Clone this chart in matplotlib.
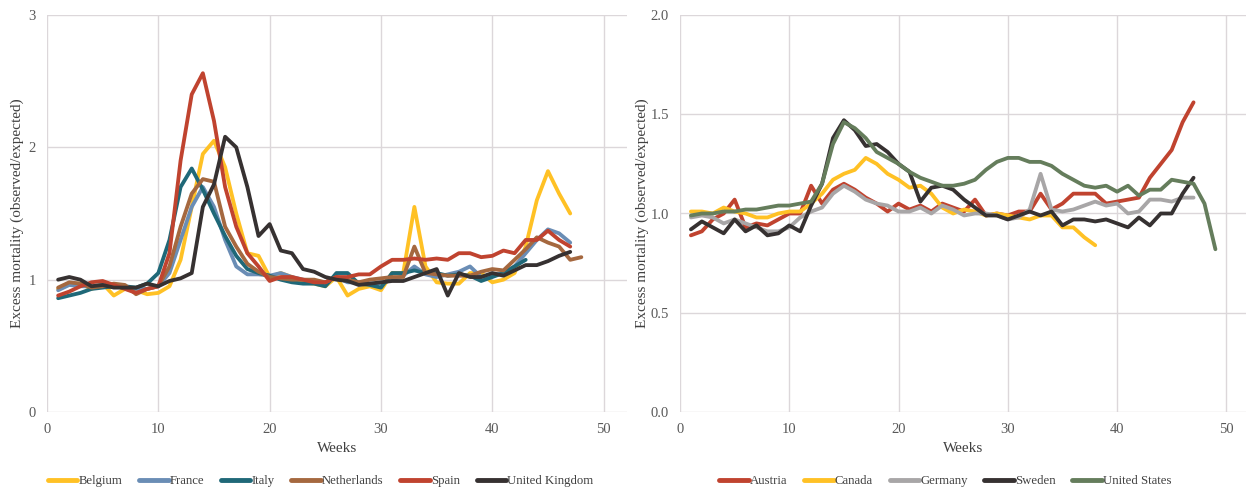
import matplotlib.pyplot as plt
from matplotlib.ticker import FormatStrFormatter

plt.rcParams['font.family'] = ['Liberation Serif', 'DejaVu Serif']
plt.rcParams['font.size'] = 10

# ---- left panel data (weekly observed/expected) ----
belgium = [0.93, 0.97, 0.97, 0.93, 0.97, 0.88, 0.93, 0.92, 0.89, 0.90,
           0.95, 1.15, 1.55, 1.95, 2.05, 1.85, 1.50, 1.20, 1.18, 1.02,
           1.05, 1.02, 0.98, 0.97, 0.95, 1.02, 0.88, 0.93, 0.95, 0.92,
           1.05, 1.05, 1.55, 1.10, 0.98, 0.97, 0.97, 1.05, 1.05, 0.98,
           1.00, 1.05, 1.25, 1.60, 1.82, 1.65, 1.50]
france = [0.92, 0.96, 0.95, 0.95, 0.96, 0.95, 0.94, 0.93, 0.93, 0.95,
          1.05, 1.30, 1.55, 1.70, 1.55, 1.30, 1.10, 1.04, 1.04, 1.03,
          1.05, 1.02, 1.00, 0.99, 0.98, 1.02, 0.98, 0.98, 0.97, 0.97,
          1.00, 1.03, 1.10, 1.04, 1.02, 1.04, 1.06, 1.10, 1.02, 1.04,
          1.05, 1.10, 1.20, 1.30, 1.38, 1.35, 1.28]
italy = [0.86, 0.88, 0.90, 0.93, 0.94, 0.95, 0.95, 0.94, 0.97, 1.05,
         1.30, 1.70, 1.84, 1.68, 1.50, 1.33, 1.18, 1.08, 1.05, 1.03,
         1.00, 0.98, 0.97, 0.97, 0.95, 1.05, 1.05, 0.97, 0.96, 0.94,
         1.05, 1.05, 1.07, 1.05, 1.05, 1.03, 1.04, 1.03, 0.99, 1.02,
         1.05, 1.10, 1.15]
netherlands = [0.94, 0.98, 0.97, 0.94, 0.95, 0.97, 0.96, 0.89, 0.93, 0.95,
               1.10, 1.40, 1.65, 1.76, 1.74, 1.40, 1.25, 1.12, 1.06, 1.02,
               1.01, 1.00, 1.00, 1.00, 0.98, 1.02, 1.00, 0.98, 1.00, 1.01,
               1.02, 1.02, 1.25, 1.05, 1.04, 1.03, 1.03, 1.03, 1.06, 1.08,
               1.07, 1.15, 1.23, 1.32, 1.28, 1.25, 1.15, 1.17]
spain = [0.88, 0.91, 0.95, 0.98, 0.99, 0.96, 0.93, 0.90, 0.93, 0.95,
         1.20, 1.90, 2.40, 2.56, 2.20, 1.70, 1.40, 1.20, 1.10, 0.99,
         1.02, 1.02, 1.00, 0.98, 0.98, 1.02, 1.02, 1.04, 1.04, 1.10,
         1.15, 1.15, 1.16, 1.15, 1.16, 1.15, 1.20, 1.20, 1.17, 1.18,
         1.22, 1.20, 1.30, 1.30, 1.37, 1.30, 1.25]
uk = [1.00, 1.02, 1.00, 0.95, 0.96, 0.94, 0.94, 0.94, 0.97, 0.95,
      0.99, 1.01, 1.05, 1.55, 1.72, 2.08, 2.00, 1.70, 1.33, 1.42,
      1.22, 1.20, 1.08, 1.06, 1.02, 1.00, 0.99, 0.96, 0.97, 0.98,
      0.99, 0.99, 1.02, 1.05, 1.08, 0.88, 1.05, 1.02, 1.02, 1.05,
      1.03, 1.07, 1.11, 1.11, 1.14, 1.18, 1.21]

# ---- right panel data ----
austria = [0.89, 0.91, 0.97, 1.00, 1.07, 0.93, 0.95, 0.94, 0.97, 1.00,
           1.00, 1.14, 1.05, 1.12, 1.15, 1.12, 1.08, 1.05, 1.01, 1.05,
           1.02, 1.04, 1.01, 1.05, 1.03, 1.01, 1.07, 0.99, 1.00, 0.99,
           1.01, 1.01, 1.10, 1.02, 1.05, 1.10, 1.10, 1.10, 1.05, 1.06,
           1.07, 1.08, 1.18, 1.25, 1.32, 1.46, 1.56]
canada = [1.01, 1.01, 1.00, 1.03, 1.01, 1.00, 0.98, 0.98, 1.00, 1.01,
          1.01, 1.05, 1.10, 1.17, 1.20, 1.22, 1.28, 1.25, 1.20, 1.17,
          1.13, 1.14, 1.10, 1.03, 1.00, 1.02, 1.01, 0.99, 1.00, 0.99,
          0.98, 0.97, 0.99, 0.99, 0.93, 0.93, 0.88, 0.84]
germany = [0.98, 0.99, 0.98, 0.95, 0.97, 0.95, 0.93, 0.91, 0.91, 0.93,
           0.98, 1.01, 1.03, 1.10, 1.14, 1.11, 1.07, 1.05, 1.04, 1.01,
           1.01, 1.03, 1.00, 1.04, 1.02, 0.99, 1.00, 1.00, 0.99, 0.97,
           0.98, 1.02, 1.20, 1.02, 1.01, 1.02, 1.04, 1.06, 1.04, 1.05,
           1.00, 1.01, 1.07, 1.07, 1.06, 1.08, 1.08]
sweden = [0.92, 0.96, 0.93, 0.90, 0.97, 0.91, 0.94, 0.89, 0.90, 0.94,
          0.91, 1.04, 1.15, 1.38, 1.47, 1.42, 1.34, 1.35, 1.31, 1.25,
          1.21, 1.06, 1.13, 1.14, 1.12, 1.07, 1.03, 0.99, 0.99, 0.97,
          0.99, 1.01, 0.99, 1.01, 0.94, 0.97, 0.97, 0.96, 0.97, 0.95,
          0.93, 0.98, 0.94, 1.00, 1.00, 1.10, 1.18]
us = [0.99, 1.00, 1.00, 1.01, 1.01, 1.02, 1.02, 1.03, 1.04, 1.04,
      1.05, 1.06, 1.15, 1.35, 1.46, 1.43, 1.38, 1.31, 1.28, 1.25,
      1.21, 1.18, 1.16, 1.14, 1.14, 1.15, 1.17, 1.22, 1.26, 1.28,
      1.28, 1.26, 1.26, 1.24, 1.20, 1.17, 1.14, 1.13, 1.14, 1.11,
      1.14, 1.09, 1.12, 1.12, 1.17, 1.16, 1.15, 1.05, 0.82]

left_series = [("Belgium", belgium, "#FFC125"), ("France", france, "#6A8DB5"),
               ("Italy", italy, "#1F6878"), ("Netherlands", netherlands, "#A5683F"),
               ("Spain", spain, "#C0432F"), ("United Kingdom", uk, "#363131")]
right_series = [("Austria", austria, "#C0432F"), ("Canada", canada, "#FFC125"),
                ("Germany", germany, "#A8A6A7"), ("Sweden", sweden, "#363131"),
                ("United States", us, "#657D5C")]

fig = plt.figure(figsize=(12.47, 4.9), dpi=100)
ax1 = fig.add_axes([47 / 1247, 78 / 490, 580 / 1247, 397 / 490])
ax2 = fig.add_axes([680 / 1247, 78 / 490, 566 / 1247, 397 / 490])


def style(ax, ymax, yticks):
    for s in ax.spines.values():
        s.set_visible(False)
    ax.set_xlim(0, 52.1)
    ax.set_ylim(0, ymax)
    ax.set_xticks([0, 10, 20, 30, 40, 50])
    ax.set_yticks(yticks)
    ax.grid(True, color="#dcd7da", linewidth=1)
    ax.set_axisbelow(True)
    ax.tick_params(length=0, colors="#595959", labelsize=10.5, pad=8)
    ax.set_xlabel("Weeks", color="#404040", fontsize=11, labelpad=4)
    ax.set_ylabel("Excess mortality (observed/expected)", color="#404040", fontsize=11)


for ax, series in [(ax1, left_series), (ax2, right_series)]:
    for name, vals, col in series:
        weeks = range(1, len(vals) + 1)
        ax.plot(weeks, vals, color=col, lw=2.75, label=name,
                solid_joinstyle="round", solid_capstyle="round")

style(ax1, 3, [0, 1, 2, 3])
style(ax2, 2, [0, 0.5, 1, 1.5, 2])
ax2.set_xlim(0, 51.8)
ax2.yaxis.set_major_formatter(FormatStrFormatter("%.1f"))
ax1.yaxis.labelpad = 3
ax2.yaxis.labelpad = 1

for ax, cx in ((ax1, 0.472), (ax2, 0.469)):
    leg = ax.legend(loc="center", bbox_to_anchor=(cx, -0.174), ncol=6,
                    frameon=False, handlelength=2.3, handletextpad=0.1,
                    columnspacing=1.3, fontsize=9.2, labelcolor="#404040")
    for h in leg.get_lines():
        h.set_linewidth(3.5)

fig.savefig("out.png", dpi=100)
